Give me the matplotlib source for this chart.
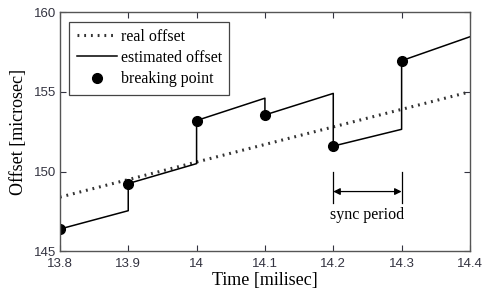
import matplotlib
matplotlib.use("Agg")
import matplotlib.pyplot as plt

# real offset (straight line)
real_t = [13.8, 14.4]
real_offset = [148.4, 155.0]

# estimated offset: sawtooth, each sync period starts at a breaking point
est_t = [13.8, 13.9, 13.9, 14.0, 14.0, 14.1, 14.1, 14.2, 14.2, 14.3, 14.3, 14.4]
est_offset = [146.4, 147.55, 149.25, 150.5, 153.2, 154.6, 153.55, 154.9, 151.6, 152.65, 156.95, 158.45]

# breaking points
break_t = [13.8, 13.9, 14.0, 14.1, 14.2, 14.3]
break_offset = [146.4, 149.25, 153.2, 153.55, 151.6, 156.95]

xticks = [13.8, 13.9, 14.0, 14.1, 14.2, 14.3, 14.4]
xticklabels = ["13.8", "13.9", "14", "14.1", "14.2", "14.3", "14.4"]
yticks = [145, 150, 155, 160]

serif = "Liberation Serif"
sans = "Liberation Sans"

fig = plt.figure(figsize=(4.83, 2.93), dpi=100)
ax = fig.add_axes([0.124, 0.142, 0.849, 0.817])

ax.plot(real_t, real_offset, color="#333333", linestyle=(0, (0.6, 1.6)), linewidth=2.2,
        label="real offset")
ax.plot(est_t, est_offset, color="black", linewidth=1.1, label="estimated offset")
ax.plot(break_t, break_offset, "o", color="black", markersize=7, label="breaking point")

# sync period annotation
ax.plot([14.2, 14.2], [148.05, 149.95], color="black", linewidth=0.9)
ax.plot([14.3, 14.3], [148.05, 149.95], color="black", linewidth=0.9)
ax.annotate("", xy=(14.2, 148.75), xytext=(14.3, 148.75),
            arrowprops=dict(arrowstyle="<|-|>", color="black", lw=0.9,
                            mutation_scale=10, shrinkA=0, shrinkB=0))
ax.text(14.25, 147.3, "sync period", ha="center", va="center", fontsize=11.5,
        family=serif)

ax.set_xlim(13.8, 14.4)
ax.set_ylim(145, 160)
ax.set_xticks(xticks)
ax.set_xticklabels(xticklabels)
ax.set_yticks(yticks)
ax.tick_params(direction="in", top=True, right=True, length=4, labelsize=9.5,
               colors="#333340")
ax.tick_params(axis="x", pad=5)
ax.tick_params(axis="y", pad=3)
for lab in ax.get_xticklabels() + ax.get_yticklabels():
    lab.set_family(sans)
for s in ax.spines.values():
    s.set_color("#555555")
    s.set_linewidth(1.0)

ax.set_xlabel("Time [milisec]", fontsize=13, family=serif, labelpad=1)
ax.set_ylabel("Offset [microsec]", fontsize=13, family=serif, labelpad=5)

leg = ax.legend(loc="upper left", prop={"family": serif, "size": 11.5},
                fancybox=False, edgecolor="#444444", framealpha=1,
                handlelength=2.55, borderaxespad=0.6, labelspacing=0.33,
                borderpad=0.45, handletextpad=0.2)
leg.get_frame().set_linewidth(0.9)

fig.savefig("out.png", dpi=100)
